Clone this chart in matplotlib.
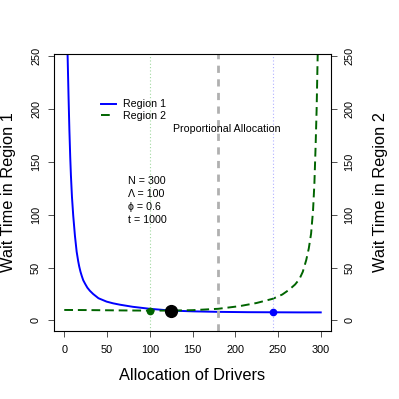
import numpy as np
import matplotlib.pyplot as plt
from matplotlib.lines import Line2D

plt.rcParams['font.family'] = ['Liberation Sans', 'DejaVu Sans']

# wait time curves
drivers1 = [3.5, 3.9, 5.0, 6.0, 7.0, 7.8, 9.0, 10.5, 12.5, 14.5, 16.3, 17.5, 19.0,
            20.5, 22.2, 24.5, 27.0, 30.0, 33.8, 40.0, 49.5, 57.0, 65.0, 80.0,
            100.0, 125.0, 150.0, 180.0, 215.0, 245.0, 275.0, 300.0]
wait1 = [267, 251, 212, 180, 154, 137, 117, 99, 80, 65, 56, 51, 46,
         42, 38, 34.5, 31, 28, 25, 21, 17.8, 16.2, 14.9, 12.9,
         11.0, 9.3, 8.6, 8.1, 7.8, 7.7, 7.6, 7.6]

drivers2 = [0, 25, 50, 75, 100, 125, 150, 180, 205, 225, 244, 255, 263, 270, 275,
            279, 283, 286, 288.7, 291, 292.6, 294, 295.2, 296.4, 297]
wait2 = [9.9, 9.8, 9.6, 9.4, 9.3, 9.3, 9.7, 11.0, 13.5, 16.5, 20.5, 24.5, 29, 34, 39,
         46, 57, 68, 82, 104, 130, 165, 200, 250, 275]

best1 = (244.5, 7.7)   # region 1 optimum
best2 = (100, 9.3)     # region 2 optimum
balance = (124.5, 9.2)
proportional = 180

params = ['N = 300', '\u039b = 100', '\u03d5 = 0.6', 't = 1000']
yticks = [0, 50, 100, 150, 200, 250]
xticks = [0, 50, 100, 150, 200, 250, 300]

fig = plt.figure(figsize=(3.99, 3.99), dpi=100)
ax = fig.add_axes([54 / 399, 1 - 331 / 399, 277 / 399, 277 / 399])

ax.plot(drivers1, wait1, color='#0000ff', lw=1.4)
ax.plot(drivers2, wait2, color='#006400', lw=1.4, dashes=(4.5, 2.5))

ax.axvline(best2[0], color='#9fd89f', lw=0.8, ls=(0, (1, 2)))
ax.axvline(best1[0], color='#b0b0ff', lw=0.8, ls=(0, (1, 2)))
ax.axvline(proportional, color='#b0b0b0', lw=2.0, dashes=(2.6, 2.3))

ax.plot(*best2, 'o', color='#006400', ms=4.5)
ax.plot(*best1, 'o', color='#0000ff', ms=4.5)
ax.plot(*balance, 'o', color='black', ms=8.5)

ax.set_xlim(-12, 312)
ax.set_ylim(-10, 252)
ax.set_xticks(xticks)
ax.set_yticks(yticks)
ax.tick_params(axis='both', labelsize=7.8, length=4.3, width=0.6, color='#333333')
ax.tick_params(axis='x', pad=5.5)
ax.tick_params(axis='y', labelrotation=90, pad=5)
for lab in ax.get_yticklabels():
    lab.set_va('center')
for s in ax.spines.values():
    s.set_linewidth(0.7)

ax2 = ax.twinx()
ax2.set_ylim(-10, 252)
ax2.set_yticks(yticks)
ax2.tick_params(axis='y', labelsize=7.8, length=4.3, width=0.6, color='#333333',
                labelrotation=90, pad=5.5)
for lab in ax2.get_yticklabels():
    lab.set_va('center')

ax.text(190, 181, 'Proportional Allocation', fontsize=7.7, ha='center', va='center')
for i, p in enumerate(params):
    ax.text(75, 132 - i * 12.4, p, fontsize=7.7, ha='left', va='center')

# legend handles (green one shows a single dash like the original)
h1 = Line2D([], [], color='#0000ff', lw=1.4)
h2 = Line2D([], [], color='#006400', lw=1.4, dashes=(4.5, 8))
ax.legend(handles=[h1, h2], labels=['Region 1', 'Region 2'], loc='upper left',
          bbox_to_anchor=(0.155, 0.852), frameon=False, fontsize=7.7,
          handlelength=1.4, handletextpad=0.65, labelspacing=0.15, borderaxespad=0)

fig.text(192.5 / 399, 1 - 376 / 399, 'Allocation of Drivers', fontsize=11.8,
         ha='center', va='center')
fig.text(9 / 399, 1 - 192.5 / 399, 'Wait Time in Region 1', fontsize=11.8,
         ha='center', va='center', rotation=90)
fig.text(381 / 399, 1 - 192.5 / 399, 'Wait Time in Region 2', fontsize=11.8,
         ha='center', va='center', rotation=90)

fig.savefig('out.png', dpi=100)
